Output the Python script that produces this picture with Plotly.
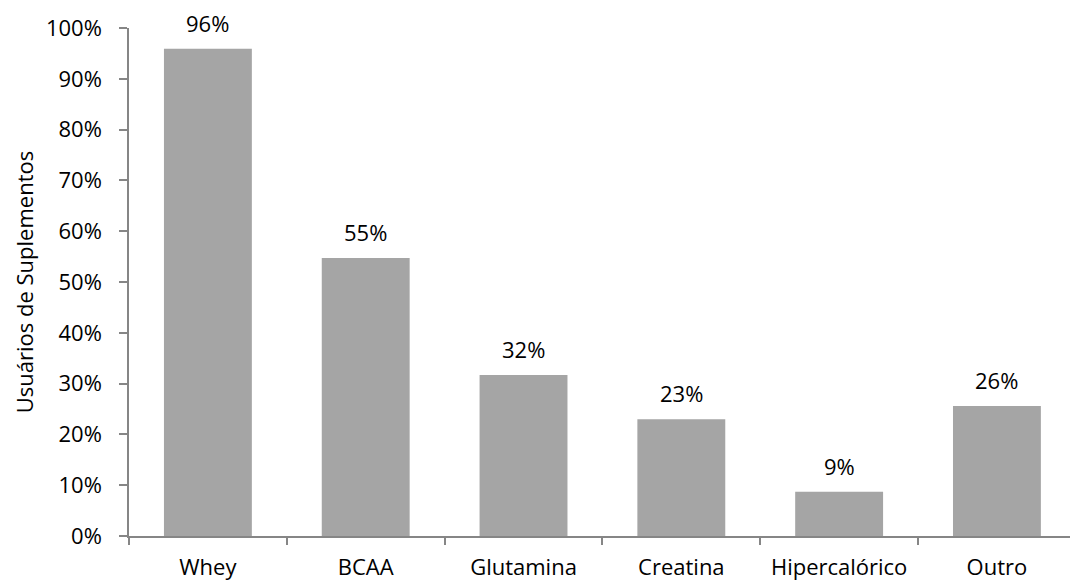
import plotly.graph_objects as go

# Supplement use by type (share of users)
categories = ["Whey", "BCAA", "Glutamina", "Creatina", "Hipercalórico", "Outro"]
shares = [0.959, 0.547, 0.317, 0.230, 0.087, 0.256]
y_ticks = [i / 10 for i in range(11)]
y_tick_labels = [f"{int(round(t * 100))}%" for t in y_ticks]

FONT = "Open Sans"
AXIS_GRAY = "#868686"
BAR_GRAY = "#A5A5A5"
TXT = dict(family=FONT, size=22, color="#000000")

fig = go.Figure()
fig.add_trace(go.Bar(
    x=categories,
    y=shares,
    marker=dict(color=BAR_GRAY, line=dict(width=0)),
    width=0.557,
    hoverinfo="skip",
))

# value labels above each bar
for cat, val in zip(categories, shares):
    fig.add_annotation(
        x=cat, y=val, text=f"{round(val * 100)}%",
        showarrow=False, yanchor="bottom", yshift=9,
        font=TXT,
    )

fig.update_layout(
    width=1070, height=583,
    margin=dict(l=129, r=0, t=28, b=47),
    paper_bgcolor="white", plot_bgcolor="white",
    showlegend=False,
    font=TXT,
)
fig.update_xaxes(
    range=[-0.5, 5.463],
    automargin=False,
    showline=True, linecolor=AXIS_GRAY, linewidth=1.5,
    ticks="outside", tickson="boundaries", ticklen=7, tickcolor=AXIS_GRAY, tickwidth=1.5,
    ticklabelstandoff=11,
    showgrid=False, zeroline=False,
    tickfont=TXT,
)
fig.update_yaxes(
    range=[0, 1],
    automargin=False,
    tickvals=y_ticks, ticktext=y_tick_labels,
    showline=True, linecolor=AXIS_GRAY, linewidth=1.5,
    ticks="outside", ticklen=8, tickcolor=AXIS_GRAY, tickwidth=1.5,
    ticklabelstandoff=13,
    showgrid=False, zeroline=False,
    tickfont=TXT,
    title=dict(text="Usuários de Suplementos", standoff=6,
               font=dict(family=FONT, size=22, color="#000000")),
)

fig.write_html("out.html")
